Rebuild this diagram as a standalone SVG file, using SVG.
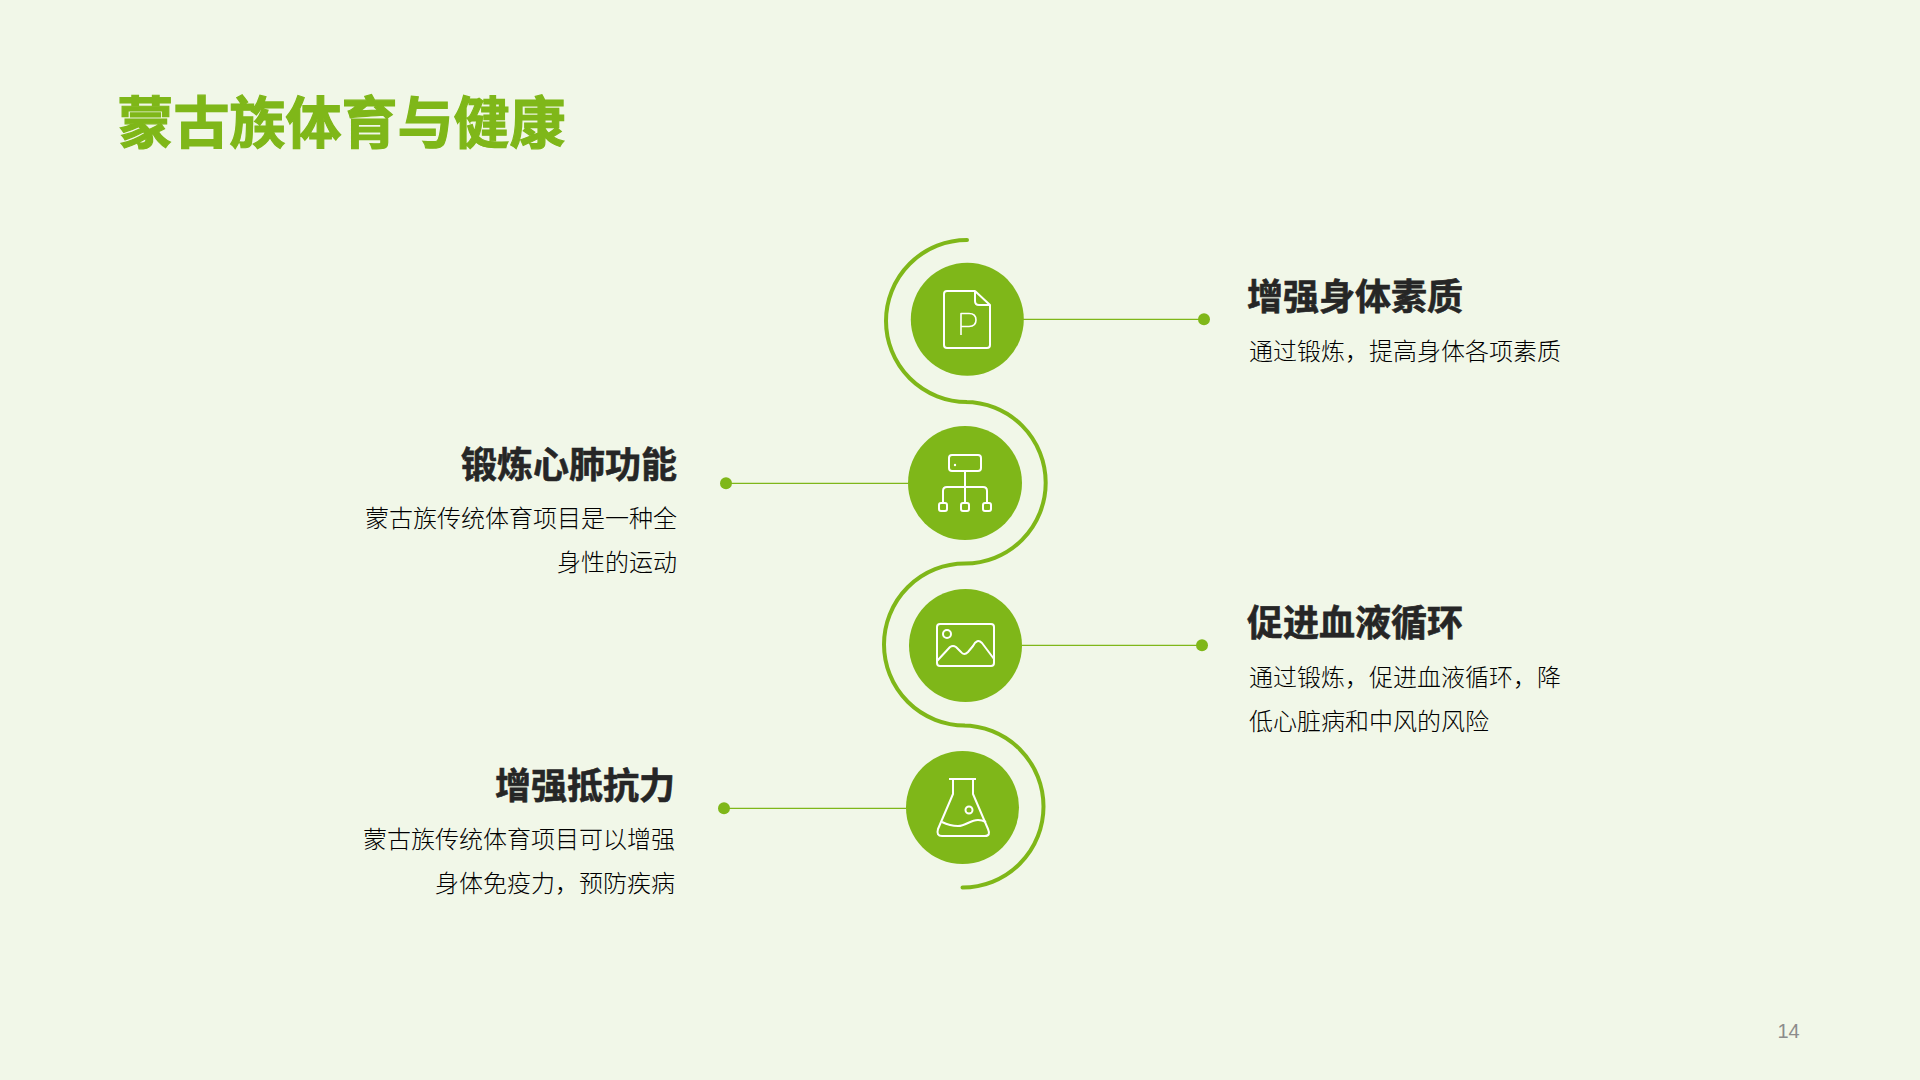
<svg xmlns="http://www.w3.org/2000/svg" width="1920" height="1080" viewBox="0 0 1920 1080">
<style>
text{font-family:"Noto Sans CJK SC","Noto Sans",sans-serif}
.t{font-size:56px;font-weight:700;fill:#7fb719;stroke:#7fb719;stroke-width:1.200}
.h{font-size:36px;font-weight:700;fill:#262626;stroke:#262626;stroke-width:.6}
.b{font-size:24px;font-weight:300;fill:#000}
.r{text-anchor:end}
.c{fill:#7fb719}
.l{stroke:#7fb719;stroke-width:1.300;fill:none}
.s{stroke:#7fb719;stroke-width:4;fill:none;stroke-linecap:round}
.i{stroke:#fff;stroke-width:2;fill:none;stroke-linejoin:round}
.p{stroke-width:1.600}
.n{font-family:"Liberation Sans",sans-serif;font-size:20px;fill:#8c8c8c}
</style>
<rect width="1920" height="1080" fill="#f1f7e8"/>
<text class="t" x="117.500" y="143">蒙古族体育与健康</text>
<g id="connectors">
<path class="s" d="M967 240A81 81 0 0 0 967 402H965A80.750 80.750 0 0 1 965 563.500A81 81 0 0 0 965 725.500H962.500A81 81 0 0 1 962.500 887.500"/>
<path class="l" d="M1023 319.300H1204M908 483.300H726M1022 645.300H1202M906 808.300H724"/>
</g>
<g id="node1">
<circle class="c" cx="967.300" cy="319.300" r="56.500"/>
<path class="i" d="M975 291H947Q944 291 944 294V345Q944 348 947 348H987Q990 348 990 345V305L975 291V301Q975 305 979 305H990"/>
<path class="i p" d="M961 335V313.500H969Q976 313.500 976 320Q976 326.500 969 326.500H961"/>
<circle class="c" cx="1204" cy="319.300" r="6"/>
<text class="h" x="1247" y="310">增强身体素质</text>
<text class="b" x="1249" y="360">通过锻炼，提高身体各项素质</text>
</g>
<g id="node2">
<circle class="c" cx="965" cy="483" r="57"/>
<rect class="i" x="949" y="455" width="32" height="16" rx="3"/>
<circle cx="955" cy="465" r="1.200" fill="#fff"/>
<path class="i" d="M965 471V503M943 503V491Q943 487 947 487H983Q987 487 987 491V503"/>
<rect class="i" x="939" y="503" width="8" height="8" rx="2"/>
<rect class="i" x="961" y="503" width="8" height="8" rx="2"/>
<rect class="i" x="983" y="503" width="8" height="8" rx="2"/>
<circle class="c" cx="726" cy="483.300" r="6"/>
<text class="h r" x="677" y="477.500">锻炼心肺功能</text>
<text class="b r" x="677" y="527">蒙古族传统体育项目是一种全</text>
<text class="b r" x="677" y="571">身性的运动</text>
</g>
<g id="node3">
<circle class="c" cx="965.500" cy="645.500" r="56.500"/>
<rect class="i" x="937" y="624" width="57" height="42" rx="3"/>
<circle class="i" cx="947" cy="634" r="4"/>
<path class="i" d="M937 661L950 647Q953 645 956 647L961 652Q964 656 968 652L973 646Q977 638 982 643L994 659"/>
<circle class="c" cx="1202" cy="645.300" r="6"/>
<text class="h" x="1247" y="636">促进血液循环</text>
<text class="b" x="1249" y="686">通过锻炼，促进血液循环，降</text>
<text class="b" x="1249" y="730">低心脏病和中风的风险</text>
</g>
<g id="node4">
<circle class="c" cx="962.500" cy="807.500" r="56.500"/>
<path class="i" d="M949 779H976M953 779V794L938 829Q936 836 942 836H985Q991 836 988 829L973 794V779"/>
<path class="i" d="M942 822Q950 826 958 826C966 826 970 820 978 820Q982 820 986 822"/>
<circle class="i" cx="969" cy="810" r="3.500"/>
<circle class="c" cx="724" cy="808.300" r="6"/>
<text class="h r" x="675" y="798.500">增强抵抗力</text>
<text class="b r" x="675" y="848">蒙古族传统体育项目可以增强</text>
<text class="b r" x="675" y="892">身体免疫力，预防疾病</text>
</g>
<text class="n" x="1777.500" y="1038">14</text>
</svg>
